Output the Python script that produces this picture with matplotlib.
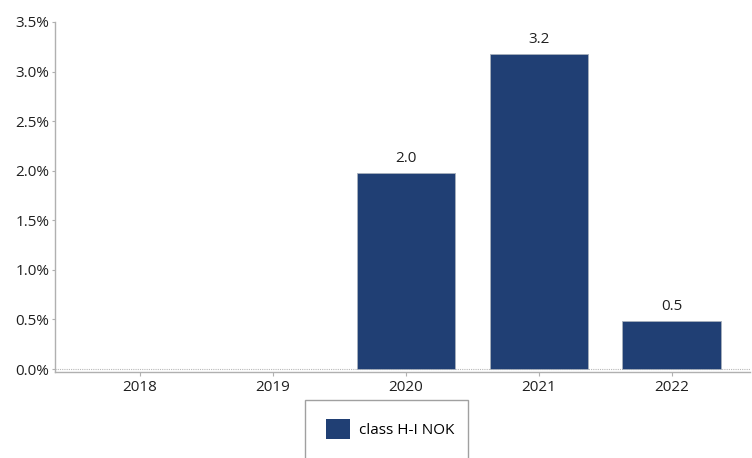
import matplotlib
matplotlib.use("Agg")
import matplotlib.pyplot as plt
from matplotlib.patches import Rectangle
from matplotlib.ticker import FuncFormatter

years = ["2018", "2019", "2020", "2021", "2022"]
values = [0.0, 0.0, 1.98, 3.18, 0.485]  # percent
labels = ["", "", "2.0", "3.2", "0.5"]
series_name = "class H-I NOK"

plt.rcParams['font.family'] = ['Open Sans', 'DejaVu Sans']
bar_color = "#203f74"
gray = "#b0b0b0"
fs = 11

fig = plt.figure(figsize=(7.52, 4.58), dpi=100)
ax = fig.add_axes([55/752, (458-372)/458, (750-55)/752, 350/458])

x = list(range(len(years)))
lw = [0.6 if v > 0 else 0 for v in values]
bars = ax.bar(x, values, width=0.74, color=bar_color, edgecolor="#a8b0bc", linewidth=lw,
              label=series_name, zorder=3)
for xi, v, lab in zip(x, values, labels):
    if lab:
        ax.text(xi, v + 0.07, lab, ha="center", va="bottom", fontsize=fs, color="#202020")

ax.set_xlim(-0.64, 4.59)
ax.set_ylim(-0.03, 3.5)
ax.set_yticks([0, 0.5, 1.0, 1.5, 2.0, 2.5, 3.0, 3.5])
ax.yaxis.set_major_formatter(FuncFormatter(lambda v, p: f"{v:.1f}%"))
ax.set_xticks(x)
ax.set_xticklabels(years)
ax.axhline(0, color="#b8b8b8", linestyle=(0, (1, 1)), linewidth=0.8, zorder=2)

for s in ["top", "right"]:
    ax.spines[s].set_visible(False)
for s in ["left", "bottom"]:
    ax.spines[s].set_color(gray)
    ax.spines[s].set_linewidth(1.0)
ax.tick_params(axis="both", colors=gray, labelcolor="#202020", labelsize=fs)
ax.tick_params(axis="y", length=2, pad=2)
ax.tick_params(axis="x", length=3, pad=3)

# legend frame (extends beyond the bottom edge)
rect = Rectangle((305/752, -0.05), (468-305)/752, (458-400)/458 + 0.05,
                 transform=fig.transFigure, fill=False, edgecolor="#a0a0a0",
                 linewidth=1.0, clip_on=False)
fig.patches.append(rect)
fig.legend(handles=[bars], labels=[series_name], loc="center left",
           bbox_to_anchor=(326/752, (458-429)/458), frameon=False,
           fontsize=fs, handlelength=1.6, handleheight=1.6, handletextpad=0.55,
           borderpad=0, borderaxespad=0)

fig.savefig("out.png", dpi=100)
